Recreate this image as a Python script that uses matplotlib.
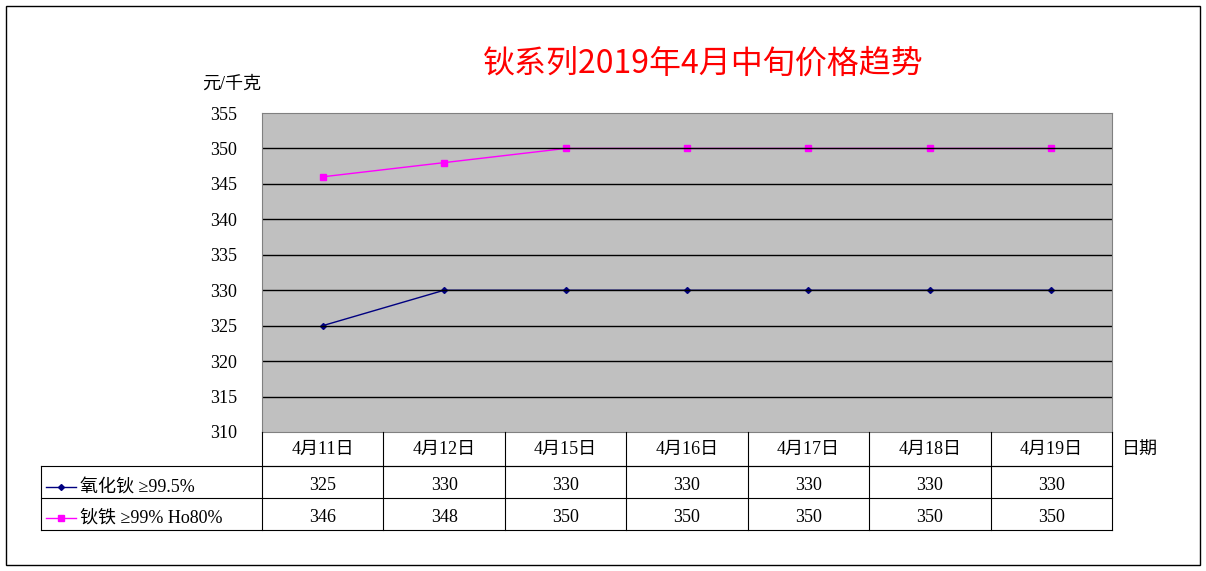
import matplotlib
matplotlib.use("Agg")
import matplotlib.pyplot as plt
from matplotlib.lines import Line2D

dates = ["4月11日", "4月12日", "4月15日", "4月16日", "4月17日", "4月18日", "4月19日"]
s1_name = "氧化钬 ≥99.5%"
s1 = [325, 330, 330, 330, 330, 330, 330]
s2_name = "钬铁 ≥99% Ho80%"
s2 = [346, 348, 350, 350, 350, 350, 350]
yticks = [310, 315, 320, 325, 330, 335, 340, 345, 350, 355]

plt.rcParams["font.family"] = ["Liberation Serif", "Noto Sans CJK SC"]
W, H = 1206, 571
fig = plt.figure(figsize=(W/100, H/100), dpi=100)

def fx(x): return x / W
def fy(y): return 1 - y / H

L, R, T, B = 262, 1112, 113, 432
ax = fig.add_axes([fx(L), fy(B), (R-L)/W, (B-T)/H])
ax.set_facecolor("#C0C0C0")
x = list(range(len(dates)))
ax.plot(x, s1, color="#000080", marker="D", markersize=3, lw=1)
ax.plot(x, s2, color="#FF00FF", marker="s", markersize=4, lw=1)
ax.set_xlim(-0.5, len(dates)-0.5)
ax.set_ylim(310, 355)
ax.set_yticks(yticks)
ax.set_yticklabels([str(v) for v in yticks], fontsize=13)
ax.set_xticks([])
ax.tick_params(axis="y", length=0, pad=18)
for v in yticks[1:-1]:
    ax.axhline(v, color="black", lw=1)
for s in ax.spines.values():
    s.set_color("#808080"); s.set_linewidth(0.8)

fig.add_artist(plt.Rectangle((fx(6), fy(565)), (1194)/W, 559/H, transform=fig.transFigure,
                             fill=False, ec="black", lw=1))
fig.text(fx(703), fy(64), "钬系列2019年4月中旬价格趋势", color="#FF0000", fontsize=23,
         ha="center", va="center", family=["Noto Sans CJK SC"])
fig.text(fx(232), fy(84), "元/千克", fontsize=13, ha="center", va="center")
fig.text(fx(1140), fy(450), "日期", fontsize=13, ha="center", va="center")

def hl(x0, x1, y):
    fig.add_artist(Line2D([fx(x0), fx(x1)], [fy(y), fy(y)], color="black", lw=0.8))
def vl(x, y0, y1):
    fig.add_artist(Line2D([fx(x), fx(x)], [fy(y0), fy(y1)], color="black", lw=0.8))

cw = (R - L) / len(dates)
hl(L, R, 466); hl(41, R, 466); hl(41, R, 498); hl(41, R, 530)
vl(41, 466, 530)
for i in range(len(dates) + 1):
    vl(L + i * cw, 432, 530)
for i, d in enumerate(dates):
    cx = L + (i + 0.5) * cw
    fig.text(fx(cx), fy(449), d, fontsize=13, ha="center", va="center")
    fig.text(fx(cx), fy(486), str(s1[i]), fontsize=13, ha="center", va="center")
    fig.text(fx(cx), fy(518), str(s2[i]), fontsize=13, ha="center", va="center")
fig.add_artist(Line2D([fx(46), fx(61), fx(76)], [fy(487)]*3, color="#000080", lw=1, marker="D",
                      markersize=3, markevery=[1], transform=fig.transFigure))
fig.add_artist(Line2D([fx(46), fx(61), fx(76)], [fy(518)]*3, color="#FF00FF", lw=1, marker="s",
                      markersize=4, markevery=[1], transform=fig.transFigure))
fig.text(fx(80), fy(487), s1_name, fontsize=13, ha="left", va="center")
fig.text(fx(80), fy(518), s2_name, fontsize=13, ha="left", va="center")

fig.savefig("out.png", dpi=100, facecolor="white")
